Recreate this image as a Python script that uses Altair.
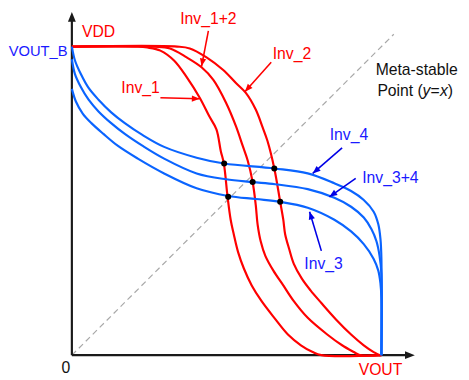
import altair as alt
import pandas as pd
import numpy as np

# ---- transfer curves (normalised to VDD) ----
# red: VOUT_B as a function of VOUT
inv1_x = [0, 0.213, 0.244, 0.286, 0.330, 0.371, 0.413, 0.444, 0.467, 0.481, 0.491, 0.503, 0.513, 0.523, 0.537, 0.556, 0.581, 0.613, 0.654, 0.698, 0.740, 0.778, 0.806, 1.0]
inv1_y = [1, 1.0, 0.997, 0.987, 0.955, 0.901, 0.834, 0.774, 0.732, 0.662, 0.621, 0.513, 0.439, 0.392, 0.334, 0.280, 0.226, 0.175, 0.121, 0.067, 0.032, 0.010, 0.0, 0.0]
inv12_x = [0, 0.267, 0.317, 0.371, 0.419, 0.457, 0.498, 0.530, 0.552, 0.568, 0.584, 0.594, 0.600, 0.610, 0.625, 0.651, 0.683, 0.717, 0.762, 0.825, 0.873, 0.911, 0.930, 1.0]
inv12_y = [1, 1.0, 0.994, 0.965, 0.933, 0.892, 0.818, 0.742, 0.678, 0.631, 0.561, 0.487, 0.424, 0.369, 0.322, 0.274, 0.226, 0.175, 0.121, 0.067, 0.032, 0.010, 0.0, 0.0]
inv2_x = [0, 0.340, 0.381, 0.435, 0.489, 0.530, 0.562, 0.594, 0.616, 0.632, 0.654, 0.673, 0.683, 0.689, 0.702, 0.717, 0.743, 0.771, 0.806, 0.854, 0.902, 0.943, 0.975, 0.994, 1.0]
inv2_y = [1, 1.0, 0.994, 0.965, 0.924, 0.882, 0.850, 0.796, 0.739, 0.694, 0.605, 0.497, 0.439, 0.392, 0.344, 0.296, 0.248, 0.210, 0.169, 0.115, 0.067, 0.032, 0.010, 0.0, 0.0]

# blue: VOUT as a function of VOUT_B
inv4_x = [0, 0.010, 0.029, 0.054, 0.086, 0.127, 0.171, 0.229, 0.298, 0.403, 0.492, 0.654, 0.762, 0.848, 0.902, 0.943, 0.975, 0.990, 0.997, 1.0, 1.0]
inv4_y = [1, 0.955, 0.911, 0.866, 0.828, 0.787, 0.752, 0.713, 0.675, 0.640, 0.621, 0.605, 0.589, 0.557, 0.532, 0.503, 0.465, 0.424, 0.376, 0.312, 0.0]
inv34_x = [0, 0.010, 0.029, 0.054, 0.086, 0.127, 0.171, 0.229, 0.298, 0.403, 0.498, 0.584, 0.657, 0.762, 0.848, 0.902, 0.943, 0.968, 0.984, 0.994, 1.0, 1.0]
inv34_y = [0.959, 0.911, 0.869, 0.828, 0.790, 0.752, 0.717, 0.678, 0.637, 0.589, 0.570, 0.561, 0.554, 0.538, 0.510, 0.481, 0.446, 0.408, 0.369, 0.322, 0.264, 0.0]
inv3_x = [0, 0.013, 0.035, 0.063, 0.102, 0.149, 0.213, 0.298, 0.403, 0.505, 0.594, 0.673, 0.762, 0.848, 0.902, 0.943, 0.975, 0.990, 0.997, 1.0, 1.0]
inv3_y = [0.863, 0.822, 0.783, 0.752, 0.717, 0.678, 0.637, 0.589, 0.541, 0.516, 0.506, 0.497, 0.478, 0.439, 0.401, 0.360, 0.312, 0.274, 0.232, 0.185, 0.0]

# intersection points
dot_x = [0.492, 0.654, 0.584, 0.505, 0.673]
dot_y = [0.621, 0.605, 0.561, 0.513, 0.497]

# meta-stable diagonal y = x
diag_x = [0, 1.04]
diag_y = [0, 1.04]

# label arrows (start -> tip)
arr_names = ["Inv_1", "Inv_1+2", "Inv_2", "Inv_4", "Inv_3+4", "Inv_3"]
arr_x0 = [0.286, 0.441, 0.644, 0.873, 0.917, 0.806]
arr_y0 = [0.834, 1.051, 0.949, 0.672, 0.573, 0.338]
arr_x1 = [0.413, 0.419, 0.559, 0.778, 0.832, 0.768]
arr_y1 = [0.831, 0.936, 0.854, 0.589, 0.513, 0.465]
arr_col = ["#ff0000", "#ff0000", "#ff0000", "#0000e6", "#0000e6", "#0000e6"]

# labels
lab_text = ["VDD", "Inv_1", "Inv_1+2", "Inv_2", "Inv_4", "Inv_3+4", "Inv_3", "Meta-stable", "0", "VOUT"]
lab_x = [0.086, 0.222, 0.441, 0.711, 0.895, 1.029, 0.813, 1.114, -0.019, 0.997]
lab_y = [1.048, 0.866, 1.089, 0.975, 0.713, 0.573, 0.296, 0.924, -0.041, -0.048]
lab_col = ["#ff0000", "#ff0000", "#ff0000", "#ff0000", "#1a1aff", "#1a1aff", "#1a1aff", "#111111", "#111111", "#ff0000"]

pt_text = ["Point (", "y", "=", "x", ")"]
pt_x = [0.987, 1.133, 1.159, 1.189, 1.214]
pt_italic = [False, True, False, True, False]
pt_y = 0.857

# ---- scales ----
W, H = 461, 372
PXX, PXY = 315.0, 314.0
xs = alt.Scale(domain=[-65 / PXX, (W - 65) / PXX], nice=False, zero=False)
ys = alt.Scale(domain=[-22 / PXY, (H - 22) / PXY], nice=False, zero=False)
X = lambda f: alt.X(f, type="quantitative", scale=xs, axis=None)
Y = lambda f: alt.Y(f, type="quantitative", scale=ys, axis=None)

def curves(names, xss, yss):
    rows = []
    for n, xx, yy in zip(names, xss, yss):
        for i, (a, b) in enumerate(zip(xx, yy)):
            rows.append({"curve": n, "i": i, "x": a, "y": b})
    return pd.DataFrame(rows)

red = curves(["Inv_1", "Inv_1+2", "Inv_2"], [inv1_x, inv12_x, inv2_x], [inv1_y, inv12_y, inv2_y])
blue = curves(["Inv_4", "Inv_3+4", "Inv_3"], [inv4_x, inv34_x, inv3_x], [inv4_y, inv34_y, inv3_y])

diag = alt.Chart(pd.DataFrame({"x": diag_x, "y": diag_y})).mark_line(
    color="#a8a8a8", strokeWidth=1.2, strokeDash=[6, 4]).encode(x=X("x"), y=Y("y"))

# axes with arrowheads
axes_df = pd.DataFrame({"x": [0, 0], "y": [0, 0], "x2": [0, 1.08], "y2": [1.09, 0]})
axes = alt.Chart(axes_df).mark_rule(color="#1a1a1a", strokeWidth=2.2).encode(
    x=X("x"), y=Y("y"), x2="x2", y2="y2")
HEAD = "M0,0L-0.8,2L0.8,2Z"
axhead_df = pd.DataFrame({"x": [0, 1.108], "y": [1.112, 0], "a": [0, 90]})
axheads = alt.Chart(axhead_df).mark_point(shape=HEAD, filled=True, size=100, opacity=1,
                                          color="#1a1a1a", strokeWidth=0).encode(
    x=X("x"), y=Y("y"), angle=alt.Angle("a:Q", scale=None))

red_l = alt.Chart(red).mark_line(color="#ff0000", strokeWidth=2.2, interpolate="catmull-rom").encode(
    x=X("x"), y=Y("y"), detail="curve:N", order="i:Q")
blue_l = alt.Chart(blue).mark_line(color="#0a64ff", strokeWidth=2.2, interpolate="catmull-rom").encode(
    x=X("x"), y=Y("y"), detail="curve:N", order="i:Q")

dots = alt.Chart(pd.DataFrame({"x": dot_x, "y": dot_y})).mark_circle(
    color="black", size=38, opacity=1).encode(x=X("x"), y=Y("y"))

arr = pd.DataFrame({"name": arr_names, "x": arr_x0, "y": arr_y0, "x2": arr_x1, "y2": arr_y1, "c": arr_col})
arr["a"] = (np.degrees(np.arctan2((arr["x2"] - arr["x"]) * PXX, (arr["y2"] - arr["y"]) * PXY)) + 360) % 360
arr_lines = alt.Chart(arr).mark_rule(strokeWidth=1.6).encode(
    x=X("x"), y=Y("y"), x2="x2", y2="y2", color=alt.Color("c:N", scale=None))
arr_heads = alt.Chart(arr).mark_point(shape=HEAD, filled=True, size=64, opacity=1, strokeWidth=0).encode(
    x=X("x2"), y=Y("y2"), angle=alt.Angle("a:Q", scale=None), color=alt.Color("c:N", scale=None))

FONT = "Liberation Sans"
labs = alt.Chart(pd.DataFrame({"t": lab_text, "x": lab_x, "y": lab_y, "c": lab_col})).mark_text(
    font=FONT, fontSize=16, align="center", baseline="middle").encode(
    x=X("x"), y=Y("y"), text="t:N", color=alt.Color("c:N", scale=None))
voutb = alt.Chart(pd.DataFrame({"t": ["VOUT_B"], "x": [-0.014], "y": [0.984]})).mark_text(
    font=FONT, fontSize=15, align="right", baseline="middle", color="#1a1aff").encode(
    x=X("x"), y=Y("y"), text="t:N")

pt = pd.DataFrame({"t": pt_text, "x": pt_x, "it": pt_italic})
pt["y"] = pt_y
pt_norm = alt.Chart(pt[~pt["it"]]).mark_text(
    font=FONT, fontSize=16, align="left", baseline="middle", color="#111111").encode(
    x=X("x"), y=Y("y"), text="t:N")
pt_it = alt.Chart(pt[pt["it"]]).mark_text(
    font=FONT, fontSize=16, fontStyle="italic", align="left", baseline="middle", color="#111111").encode(
    x=X("x"), y=Y("y"), text="t:N")

chart = alt.layer(diag, axes, axheads, red_l, blue_l, dots, arr_lines, arr_heads,
                  labs, voutb, pt_norm, pt_it).properties(
    width=W, height=H, padding=0, autosize=alt.AutoSizeParams(type="none"),
    background="white"
).configure_view(stroke=None)

chart.save("out.html", embed_options={"renderer": "svg", "actions": False})
